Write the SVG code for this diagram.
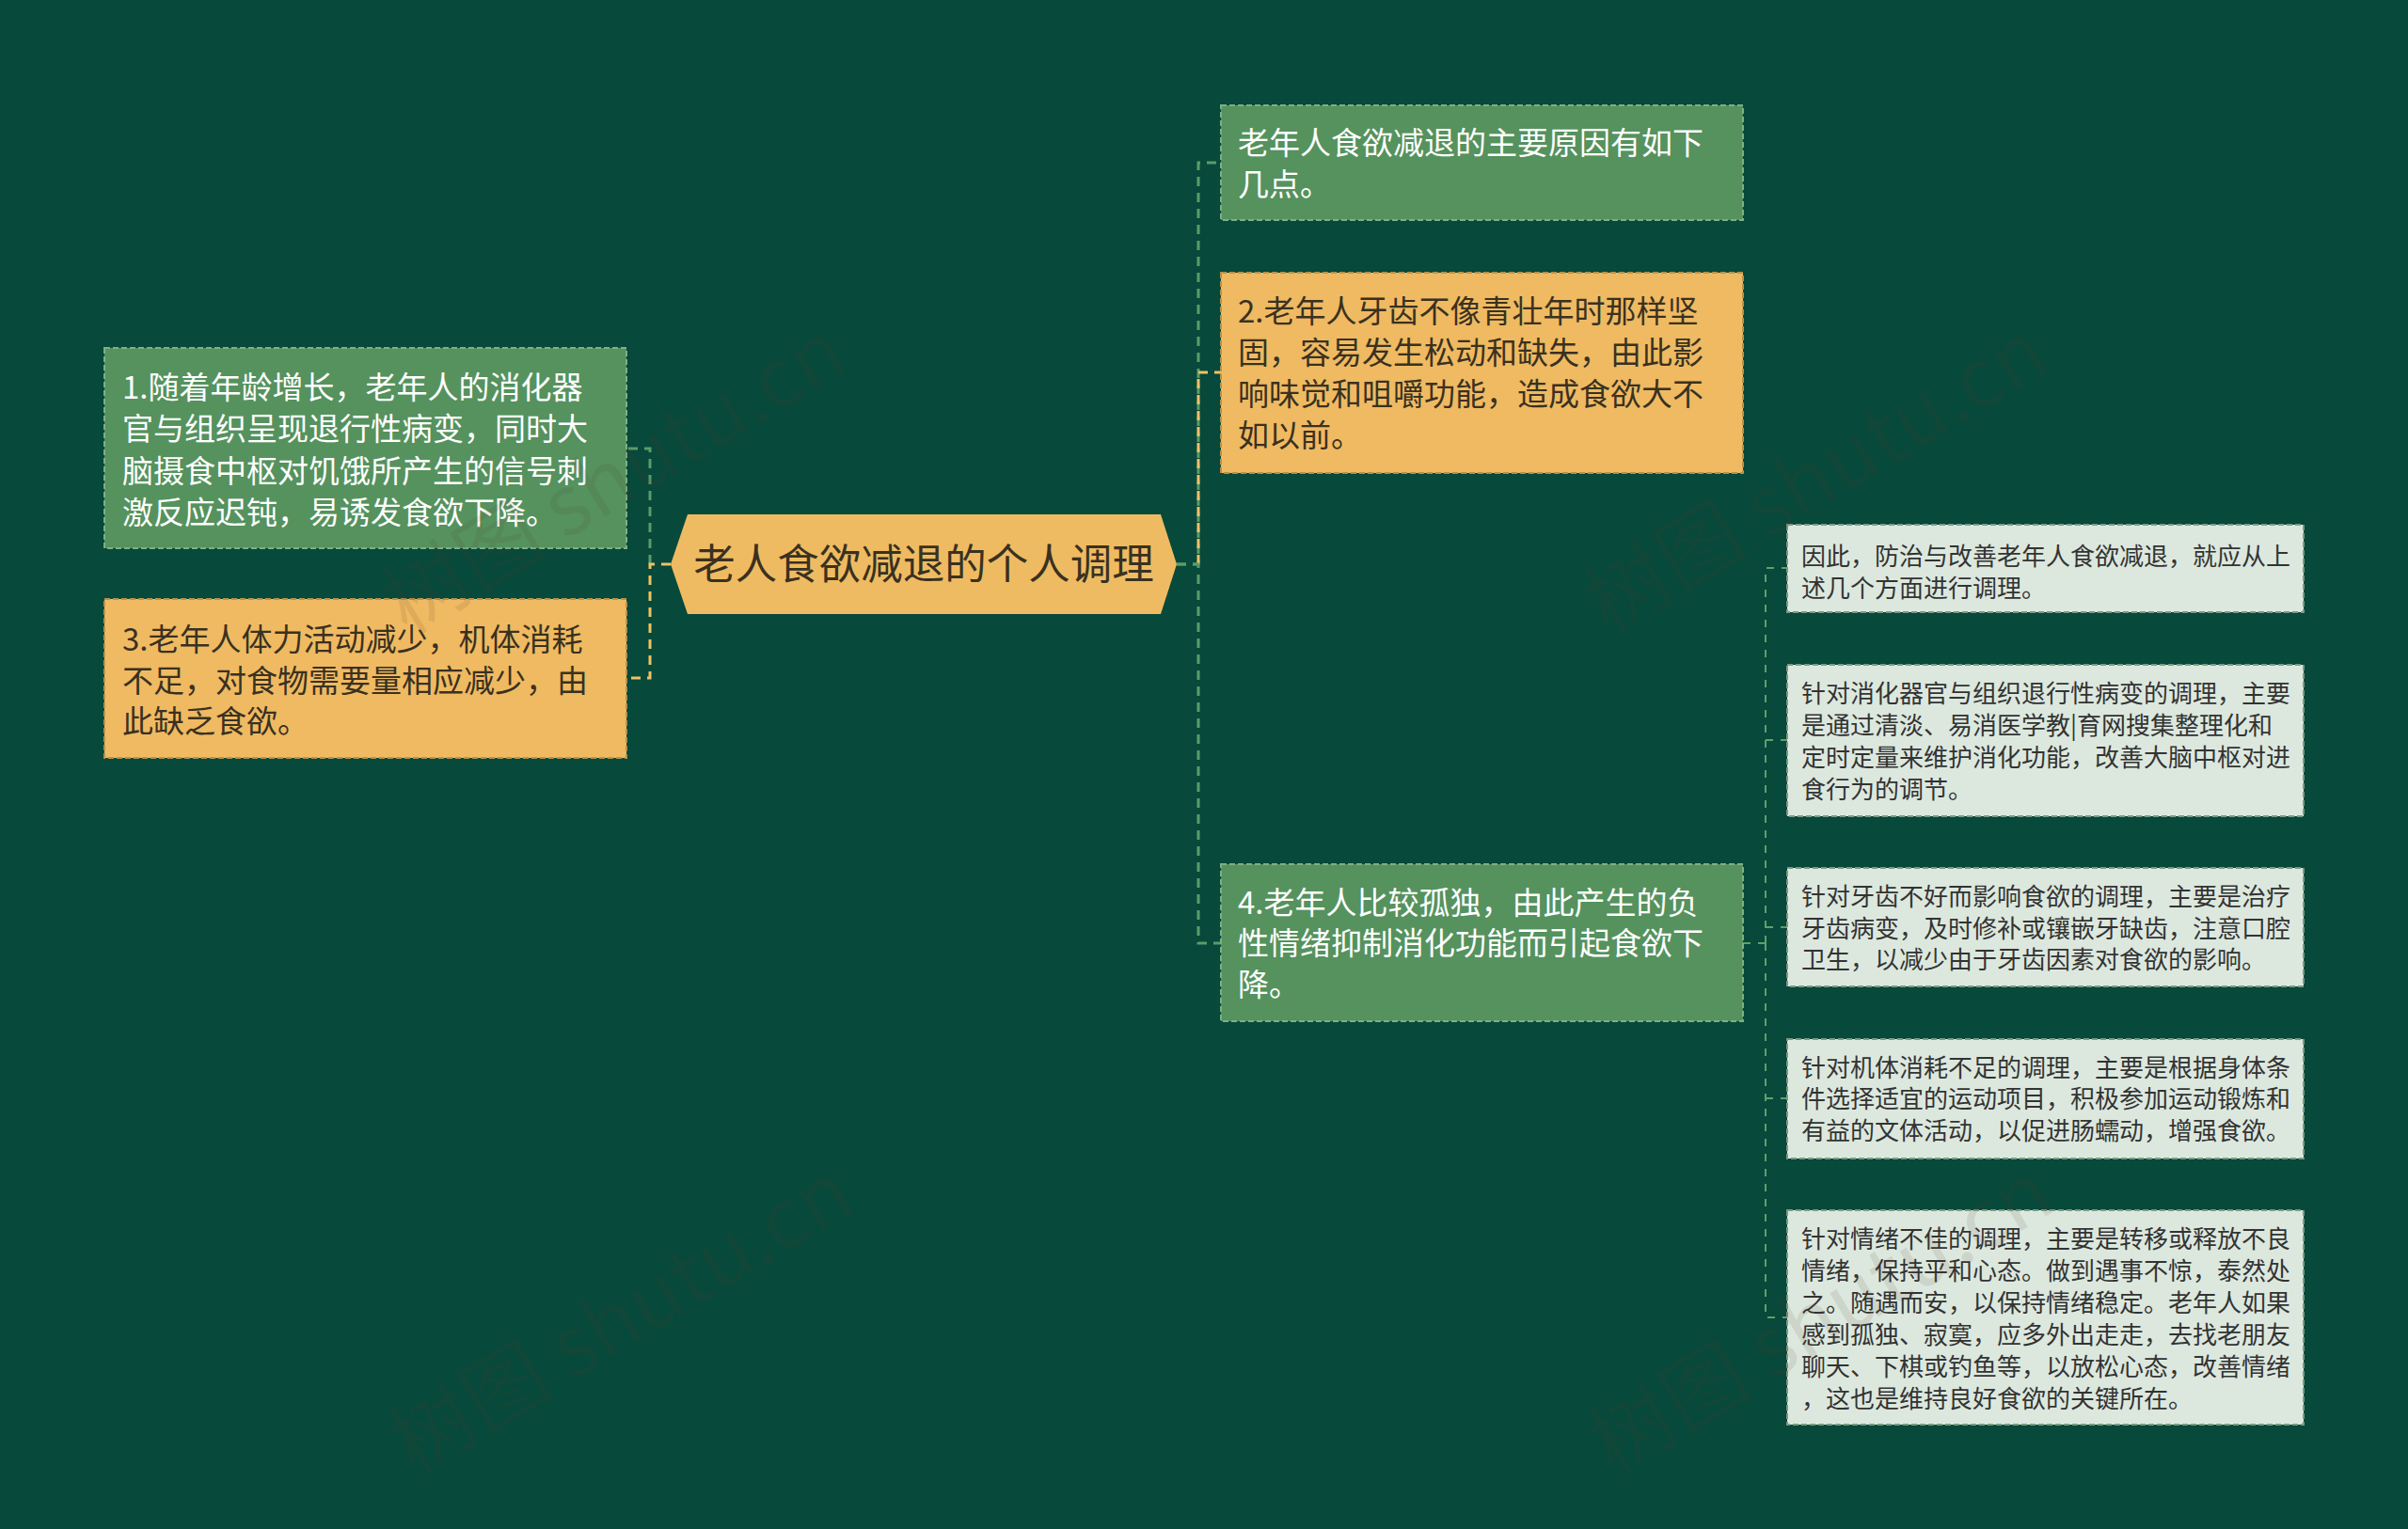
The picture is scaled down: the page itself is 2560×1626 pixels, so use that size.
<svg xmlns="http://www.w3.org/2000/svg" width="2560" height="1626" viewBox="0 0 2560 1626">
<style>
text{font-family:"Noto Sans CJK SC","Noto Sans",sans-serif;}
.bg{fill:#07493A;}
.gnode{fill:#55925E;stroke:#7FAE86;stroke-width:2;stroke-dasharray:6 3;}
.ynode{fill:#EFBA62;stroke:#B8914A;stroke-width:2;stroke-dasharray:6 3;}
.lnode{fill:#DCE8DE;stroke:#7C9A84;stroke-width:2;stroke-dasharray:6 3;}
.cnode{fill:#EFBB62;}
.ct{font-size:44.5px;fill:#3A3120;}
.gt{font-size:33px;fill:#FFFFFF;}
.yt{font-size:33px;fill:#3A3120;}
.lt{font-size:26px;fill:#333333;}
.cg{fill:none;stroke:#5A9C68;stroke-width:3;stroke-dasharray:10 7;}
.cy{fill:none;stroke:#F0C066;stroke-width:3;stroke-dasharray:10 7;}
.cl{fill:none;stroke:#5FA06C;stroke-width:2;stroke-dasharray:8 8;}
.wm{font-size:88px;fill:#5A3A2A;opacity:0.11;}
</style>
<rect class="bg" x="0" y="0" width="2560" height="1626"/>

<g id="connectors">
  <path class="cg" d="M691,600 V477 H666"/>
  <path class="cy" d="M713,600 H691 V721 H666"/>
  <path class="cg" d="M1251,600 H1274 V173 H1298"/>
  <path class="cy" d="M1274,600 V396 H1298"/>
  <path class="cg" d="M1251,600 H1274 V1003 H1298"/>
  <path class="cl" d="M1853,1003 H1877"/>
  <path class="cl" d="M1877,1003 V604 H1900"/>
  <path class="cl" d="M1877,787 H1900"/>
  <path class="cl" d="M1877,986 H1900"/>
  <path class="cl" d="M1877,1003 V1401 H1900"/>
  <path class="cl" d="M1877,1168 H1900"/>
</g>

<g id="center">
  <polygon class="cnode" points="713,600 731,547 1234,547 1251,600 1234,653 731,653"/>
  <text class="ct" x="982" y="616" text-anchor="middle">老人食欲减退的个人调理</text>
</g>

<g id="node1">
  <rect class="gnode" x="111" y="370" width="555" height="213"/>
  <text class="gt" x="130"><tspan x="130" y="424">1.随着年龄增长，老年人的消化器</tspan><tspan x="130" y="468">官与组织呈现退行性病变，同时大</tspan><tspan x="130" y="513">脑摄食中枢对饥饿所产生的信号刺</tspan><tspan x="130" y="557">激反应迟钝，易诱发食欲下降。</tspan></text>
</g>

<g id="node3">
  <rect class="ynode" x="111" y="637" width="555" height="169"/>
  <text class="yt" x="130"><tspan x="130" y="692">3.老年人体力活动减少，机体消耗</tspan><tspan x="130" y="736">不足，对食物需要量相应减少，由</tspan><tspan x="130" y="779">此缺乏食欲。</tspan></text>
</g>

<g id="nodeA">
  <rect class="gnode" x="1298" y="112" width="555" height="122"/>
  <text class="gt" x="1316"><tspan x="1316" y="164">老年人食欲减退的主要原因有如下</tspan><tspan x="1316" y="208">几点。</tspan></text>
</g>

<g id="node2">
  <rect class="ynode" x="1298" y="290" width="555" height="213"/>
  <text class="yt" x="1316"><tspan x="1316" y="343">2.老年人牙齿不像青壮年时那样坚</tspan><tspan x="1316" y="387">固，容易发生松动和缺失，由此影</tspan><tspan x="1316" y="431">响味觉和咀嚼功能，造成食欲大不</tspan><tspan x="1316" y="475">如以前。</tspan></text>
</g>

<g id="node4">
  <rect class="gnode" x="1298" y="919" width="555" height="167"/>
  <text class="gt" x="1316"><tspan x="1316" y="972">4.老年人比较孤独，由此产生的负</tspan><tspan x="1316" y="1015">性情绪抑制消化功能而引起食欲下</tspan><tspan x="1316" y="1059">降。</tspan></text>
</g>

<g id="g1">
  <rect class="lnode" x="1900" y="558" width="549" height="93"/>
  <text class="lt" x="1915"><tspan x="1915" y="601">因此，防治与改善老年人食欲减退，就应从上</tspan><tspan x="1915" y="635">述几个方面进行调理。</tspan></text>
</g>

<g id="g2">
  <rect class="lnode" x="1900" y="707" width="549" height="161"/>
  <text class="lt" x="1915"><tspan x="1915" y="747">针对消化器官与组织退行性病变的调理，主要</tspan><tspan x="1915" y="781">是通过清淡、易消医学教|育网搜集整理化和</tspan><tspan x="1915" y="815">定时定量来维护消化功能，改善大脑中枢对进</tspan><tspan x="1915" y="849">食行为的调节。</tspan></text>
</g>

<g id="g3">
  <rect class="lnode" x="1900" y="923" width="549" height="126"/>
  <text class="lt" x="1915"><tspan x="1915" y="963">针对牙齿不好而影响食欲的调理，主要是治疗</tspan><tspan x="1915" y="997">牙齿病变，及时修补或镶嵌牙缺齿，注意口腔</tspan><tspan x="1915" y="1030">卫生，以减少由于牙齿因素对食欲的影响。</tspan></text>
</g>

<g id="g4">
  <rect class="lnode" x="1900" y="1105" width="549" height="127"/>
  <text class="lt" x="1915"><tspan x="1915" y="1145">针对机体消耗不足的调理，主要是根据身体条</tspan><tspan x="1915" y="1178">件选择适宜的运动项目，积极参加运动锻炼和</tspan><tspan x="1915" y="1212">有益的文体活动，以促进肠蠕动，增强食欲。</tspan></text>
</g>

<g id="g5">
  <rect class="lnode" x="1900" y="1287" width="549" height="228"/>
  <text class="lt" x="1915"><tspan x="1915" y="1327">针对情绪不佳的调理，主要是转移或释放不良</tspan><tspan x="1915" y="1361">情绪，保持平和心态。做到遇事不惊，泰然处</tspan><tspan x="1915" y="1395">之。随遇而安，以保持情绪稳定。老年人如果</tspan><tspan x="1915" y="1429">感到孤独、寂寞，应多外出走走，去找老朋友</tspan><tspan x="1915" y="1463">聊天、下棋或钓鱼等，以放松心态，改善情绪</tspan><tspan x="1915" y="1497">，这也是维持良好食欲的关键所在。</tspan></text>
</g>

<g id="watermarks">
  <text class="wm" x="653" y="538" text-anchor="middle" transform="rotate(-31 653 506)">树图 shutu.cn</text>
  <text class="wm" x="1930" y="538" text-anchor="middle" transform="rotate(-31 1930 506)">树图 shutu.cn</text>
  <text class="wm" x="660" y="1432" text-anchor="middle" transform="rotate(-31 660 1400)">树图 shutu.cn</text>
  <text class="wm" x="1935" y="1432" text-anchor="middle" transform="rotate(-31 1935 1400)">树图 shutu.cn</text>
</g>
</svg>
